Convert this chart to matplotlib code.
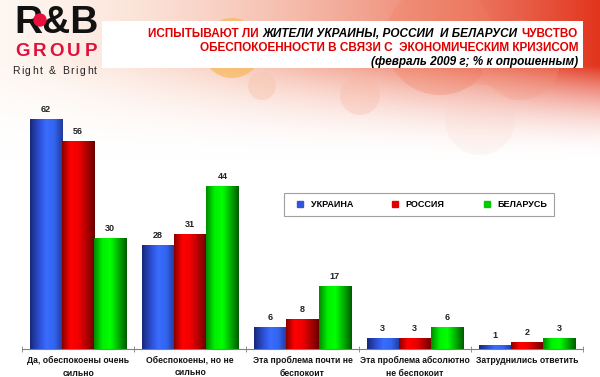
import numpy as np
import matplotlib
matplotlib.use('Agg')
import matplotlib.pyplot as plt
from matplotlib.colors import LinearSegmentedColormap, to_rgb
from matplotlib.patches import Rectangle, Circle
from matplotlib.lines import Line2D

plt.rcParams['font.family'] = ['Liberation Sans', 'DejaVu Sans']

# Данные
categories = ['Да, обеспокоены очень\nсильно', 'Обеспокоены, но не\nсильно',
              'Эта проблема почти не\nбеспокоит', 'Эта проблема абсолютно\nне беспокоит',
              'Затруднились ответить']
series = ['УКРАИНА', 'РОССИЯ', 'БЕЛАРУСЬ']
ukraine = [62, 28, 6, 3, 1]
russia = [56, 31, 8, 3, 2]
belarus = [30, 44, 17, 6, 3]

W, H = 600, 377
fig = plt.figure(figsize=(W / 100, H / 100), dpi=100)

# fond (bandeau orange en haut)
bg = fig.add_axes([0, 0, 1, 1])
bg.set_xlim(0, W)
bg.set_ylim(H, 0)
bg.axis('off')
xx, yy = np.meshgrid(np.arange(W), np.arange(H))
hx = 0.15 + 0.85 * (xx / W) ** 1.1
vy = np.where(yy < 65, 1.0, np.clip((160 - yy) / 95, 0, 1) ** 2)
alpha = (hx * vy)[..., None]
left_c = np.array(to_rgb('#f9c9a6'))
right_c = np.array(to_rgb('#e2341c'))
t = (xx / W)[..., None]
col = left_c * (1 - t) + right_c * t
img = 1 * (1 - alpha) + col * alpha
bg.imshow(img, extent=(0, W, H, 0), aspect='auto', zorder=0)

# quelques cercles décoratifs
for (cx, cy, r, c, a) in [(232, 48, 30, '#f6b23a', 0.55), (262, 86, 14, '#f7c7b0', 0.5),
                          (440, 40, 55, '#f08060', 0.3), (520, 60, 40, '#f29a80', 0.25),
                          (360, 95, 20, '#f7b5a0', 0.3), (480, 120, 35, '#f8d0c4', 0.18)]:
    bg.add_patch(Circle((cx, cy), r, color=c, alpha=a, lw=0, zorder=1))

# logo
bg.text(14, 33, 'R&B', fontsize=28, fontweight='bold', color='#111111',
        va='baseline', ha='left', zorder=3)
bg.add_patch(Circle((40, 20), 6, color='#e8103c', zorder=4))
for i, ch in enumerate('GROUP'):
    bg.text(23 + 17 * i, 56, ch, fontsize=13.5, fontweight='bold', color='#e0103a',
            ha='center', va='baseline', zorder=3)
x = 12
for ch in 'Right & Bright':
    tx = bg.text(x, 74, ch, fontsize=7.5, color='#222222', ha='left', va='baseline', zorder=3)
    w = tx.get_window_extent(fig.canvas.get_renderer()).width
    x += (w if ch != ' ' else 3) + 1.6

# titre
bg.add_patch(Rectangle((102, 21), 481, 47, color='white', lw=0, zorder=2))
rend = fig.canvas.get_renderer()
red = '#e00000'
pieces = [('ЧУВСТВО', red, 'normal'),
          ('ЖИТЕЛИ УКРАИНЫ, РОССИИ  И БЕЛАРУСИ', 'black', 'italic'),
          ('ИСПЫТЫВАЮТ ЛИ', red, 'normal')]
x = 578
for s, c, st in pieces:
    tx = bg.text(x, 37, s, fontsize=8.5, fontweight='bold', fontstyle=st, color=c,
                 ha='right', va='baseline', zorder=3)
    x -= tx.get_window_extent(rend).width + 4
bg.text(578, 51, 'ОБЕСПОКОЕННОСТИ В СВЯЗИ С  ЭКОНОМИЧЕСКИМ КРИЗИСОМ', fontsize=8.5,
        fontweight='bold', color=red, ha='right', va='baseline', zorder=3)
bg.text(578, 65, '(февраль 2009 г; % к опрошенным)', fontsize=8.5, fontweight='bold',
        fontstyle='italic', color='black', ha='right', va='baseline', zorder=3)

# graphique
ax = fig.add_axes([22 / W, 28 / H, 561 / W, 260 / H])
ax.patch.set_alpha(0)
for sp in ['top', 'right', 'left']:
    ax.spines[sp].set_visible(False)
ax.spines['bottom'].set_color('#808080')

profiles = [['#18287a', '#2a4ccc', '#3a6cff', '#3264ee', '#23399a'],
            ['#8a0000', '#ff0000', '#f00000', '#b00000', '#6a0000'],
            ['#008a00', '#00f000', '#00ff00', '#00b000', '#005c00']]
flat = ['#2f55d8', '#e00000', '#00cc00']
bw = 0.286
xs = np.arange(len(categories))
for k, vals in enumerate([ukraine, russia, belarus]):
    bars = ax.bar(xs + (k - 1) * bw, vals, bw, color=flat[k], zorder=2)
    cmap = LinearSegmentedColormap.from_list('p%d' % k, profiles[k])
    grad = np.linspace(0, 1, 64)[None, :]
    for b, v in zip(bars, vals):
        im = ax.imshow(grad, cmap=cmap, aspect='auto', zorder=3,
                       extent=(b.get_x(), b.get_x() + b.get_width(), 0, v))
        im.set_clip_path(b)
        ax.annotate(str(v), (b.get_x() + b.get_width() / 2, v), xytext=(0, 3.5),
                    textcoords='offset points', ha='center', va='bottom',
                    fontsize=6.5, fontweight='bold', color='#222222')

ax.set_xlim(-0.5, len(categories) - 0.5)
ax.set_ylim(0, 70)
ax.set_yticks([])
ax.set_xticks(xs)
ax.set_xticklabels(categories, fontsize=6.2, fontweight='bold', color='#111111',
                   linespacing=1.5)
ax.tick_params(axis='x', which='major', length=0, pad=5)
ax.set_xticks(np.arange(-0.5, len(categories)), minor=True)
ax.tick_params(axis='x', which='minor', length=4, direction='inout', color='#808080')

handles = [Line2D([], [], marker='s', ls='', color=c, markersize=4) for c in flat]
leg = fig.legend(handles, series, loc='center', ncol=3, mode='expand',
                 bbox_to_anchor=(279 / W, 1 - 217 / H, 280 / W, 25 / H),
                 prop={'size': 6.5, 'weight': 'bold'}, fancybox=False,
                 edgecolor='#a0a0a0', framealpha=1, handletextpad=0.2,
                 borderpad=0.8)
leg.get_frame().set_linewidth(0.8)

fig.savefig('out.png', dpi=100)
